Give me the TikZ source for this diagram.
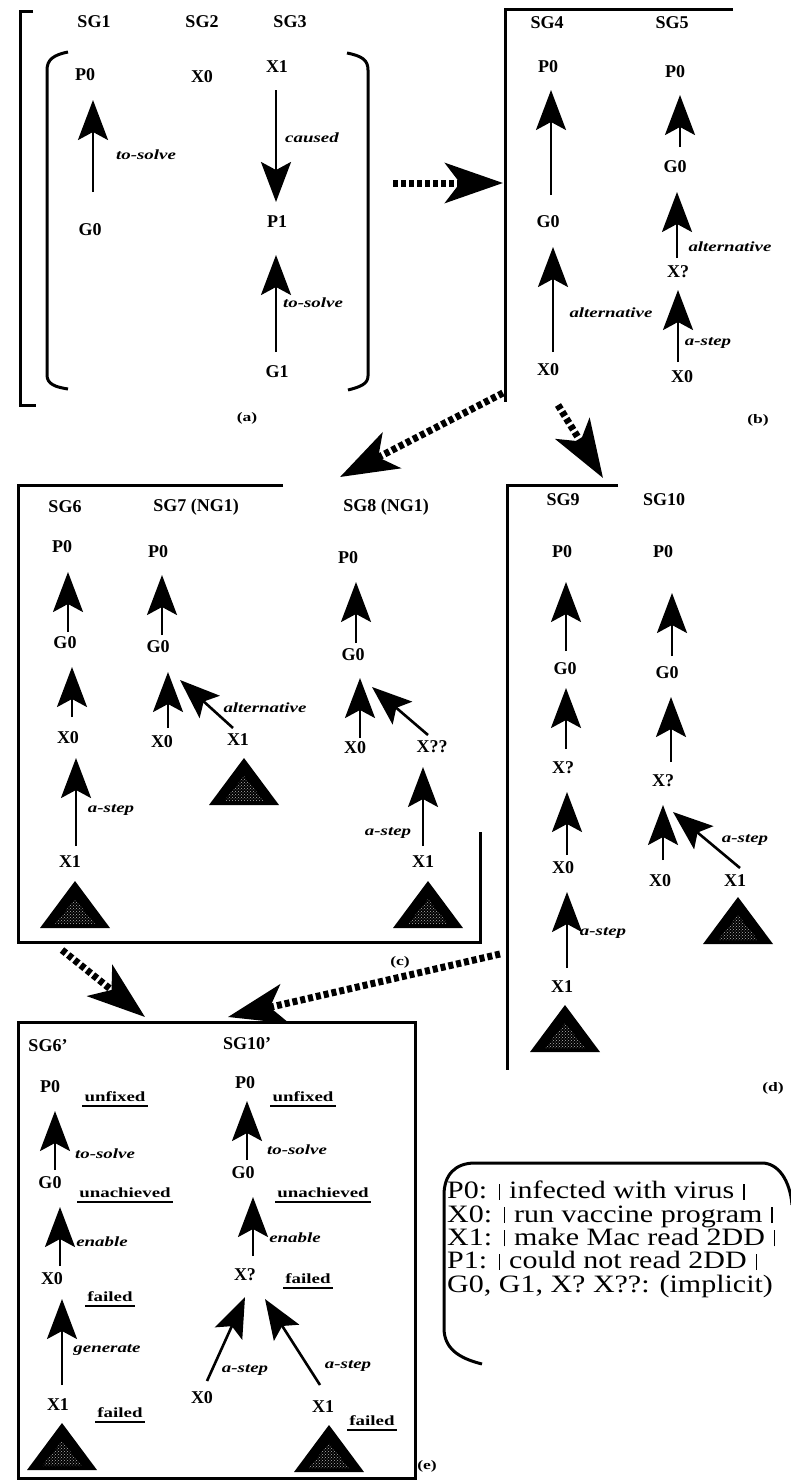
\documentclass[tikz,border=0pt]{standalone}
\usepackage{fontspec}
\setmainfont{Liberation Serif}
\newfontfamily\lblfont[FakeStretch=1.35]{Liberation Serif}
\newfontfamily\legfont[FakeStretch=1.2]{Liberation Serif}
\usetikzlibrary{arrows.meta,patterns}
\newcommand{\stiptri}[2]{%
  \fill[black] (#1,#2) -- ++(-35,47) -- ++(70,0) -- cycle;
  \fill[pattern=crosshatch dots, pattern color=white!70!black] (#1,#2) ++(0,18) -- ++(-20,25) -- ++(40,0) -- cycle;}
\newcommand{\lgbar}{\hspace{1.5pt}\rule[-1pt]{1.5pt}{16pt}\hspace{1.5pt}}
\begin{document}
\begin{tikzpicture}[x=1pt,y=-1pt,
  nodelbl/.style={font=\bfseries\fontsize{18}{20}\selectfont, inner sep=0pt},
  edgelbl/.style={font=\lblfont\bfseries\itshape\fontsize{14}{16}\selectfont, inner sep=0pt},
  ullbl/.style={font=\lblfont\bfseries\fontsize{14}{16}\selectfont, inner sep=0pt,
    append after command={([shift={(-2,4)}]\tikzlastnode.south west) edge[line width=1.6pt] ([shift={(2,4)}]\tikzlastnode.south east)}},
  caplbl/.style={font=\lblfont\bfseries\fontsize{13}{15}\selectfont, inner sep=0pt},
  arrowup/.style={draw, line width=2.6pt, -{Stealth[length=40pt,width=30pt,inset=8pt]}},
  dotarrow/.style={draw, line width=7pt, dash pattern=on 5pt off 3pt, -{Stealth[length=58pt,width=40pt,inset=15pt]}},
  boxline/.style={line width=3pt}]
\useasboundingbox (0,0) rectangle (791,1480);

% ---------------- (a)
\draw[boxline] (33,12) -- (20,12) -- (20,405) -- (36,405);
\draw[boxline] (68,52) .. controls (53,55) and (47,60) .. (47,70) -- (47,375) .. controls (47,384) and (55,387) .. (68,389);
\draw[boxline] (347,53) .. controls (362,56) and (368,60) .. (368,70) -- (368,376) .. controls (368,384) and (360,387) .. (348,390);
\node[nodelbl] (sg1) at (94,22) {SG1};
\node[nodelbl] (sg2) at (202,22) {SG2};
\node[nodelbl] (sg3) at (290,22) {SG3};
\node[nodelbl] (a1p0) at (85,75) {P0};
\node[nodelbl] (a1g0) at (90,230) {G0};
\node[nodelbl] (a2x0) at (202,77) {X0};
\node[nodelbl] (a3x1) at (277,67) {X1};
\node[nodelbl] (a3p1) at (277,222) {P1};
\node[nodelbl] (a3g1) at (277,372) {G1};
\draw[arrowup] ([shift={(3,-38)}]a1g0.center) -- ([shift={(8,25)}]a1p0.center);
\draw[arrowup] ([shift={(-1,23)}]a3x1.center) -- ([shift={(-1,-20)}]a3p1.center);
\draw[arrowup] ([shift={(-1,-20)}]a3g1.center) -- ([shift={(-1,33)}]a3p1.center);
\node[edgelbl] (la1) at (146,155) {to-solve};
\node[edgelbl] (la2) at (312,138) {caused};
\node[edgelbl] (la3) at (313,303) {to-solve};
\node[caplbl] (capa) at (247,418) {(a)};

% ---------------- (b)
\draw[boxline] (733,10) -- (505,10) -- (505,402);
\node[nodelbl] (sg4) at (547,23) {SG4};
\node[nodelbl] (sg5) at (672,23) {SG5};
\node[nodelbl] (b4p0) at (548,67) {P0};
\node[nodelbl] (b4g0) at (548,222) {G0};
\node[nodelbl] (b4x0) at (548,370) {X0};
\draw[arrowup] ([shift={(3,-27)}]b4g0.center) -- ([shift={(3,23)}]b4p0.center);
\draw[arrowup] ([shift={(5,-18)}]b4x0.center) -- ([shift={(5,25)}]b4g0.center);
\node[edgelbl] (lb1) at (611,313) {alternative};
\node[nodelbl] (b5p0) at (675,72) {P0};
\node[nodelbl] (b5g0) at (675,167) {G0};
\node[nodelbl] (b5xq) at (678,272) {X?};
\node[nodelbl] (b5x0) at (682,377) {X0};
\draw[arrowup] ([shift={(5,-20)}]b5g0.center) -- ([shift={(5,23)}]b5p0.center);
\draw[arrowup] ([shift={(-1,-14)}]b5xq.center) -- ([shift={(2,25)}]b5g0.center);
\draw[arrowup] ([shift={(-4,-15)}]b5x0.center) -- ([shift={(0,18)}]b5xq.center);
\node[edgelbl] (lb2) at (730,247) {alternative};
\node[edgelbl] (lb3) at (708,343) {a-step};
\node[caplbl] (capb) at (758,420) {(b)};

% ---------------- (c)
\draw[boxline] (283,485) -- (18,485) -- (18,942) -- (480,942) -- (480,832);
\node[nodelbl] (sg6) at (65,507) {SG6};
\node[nodelbl] (sg7) at (196,507) {SG7 (NG1)};
\node[nodelbl] (sg8) at (386,507) {SG8 (NG1)};
\node[nodelbl] (c6p0) at (62,547) {P0};
\node[nodelbl] (c6g0) at (65,643) {G0};
\node[nodelbl] (c6x0) at (68,738) {X0};
\node[nodelbl] (c6x1) at (70,862) {X1};
\draw[arrowup] ([shift={(3,-11)}]c6g0.center) -- ([shift={(6,25)}]c6p0.center);
\draw[arrowup] ([shift={(4,-21)}]c6x0.center) -- ([shift={(7,24)}]c6g0.center);
\draw[arrowup] ([shift={(6,-16)}]c6x1.center) -- ([shift={(8,20)}]c6x0.center);
\node[edgelbl] (lc1) at (111,810) {a-step};
\stiptri{75}{881}
\node[nodelbl] (c7p0) at (158,552) {P0};
\node[nodelbl] (c7g0) at (158,647) {G0};
\node[nodelbl] (c7x0) at (162,742) {X0};
\node[nodelbl] (c7x1) at (238,740) {X1};
\draw[arrowup] ([shift={(4,-12)}]c7g0.center) -- ([shift={(4,23)}]c7p0.center);
\draw[arrowup] ([shift={(6,-14)}]c7x0.center) -- ([shift={(10,25)}]c7g0.center);
\draw[arrowup] ([shift={(-5,-12)}]c7x1.center) -- ([shift={(22,33)}]c7g0.center);
\node[edgelbl] (lc2) at (265,708) {alternative};
\stiptri{244}{758}
\node[nodelbl] (c8p0) at (348,558) {P0};
\node[nodelbl] (c8g0) at (353,655) {G0};
\node[nodelbl] (c8x0) at (355,748) {X0};
\node[nodelbl] (c8xq) at (432,747) {X??};
\node[nodelbl] (c8x1) at (423,862) {X1};
\draw[arrowup] ([shift={(3,-12)}]c8g0.center) -- ([shift={(8,24)}]c8p0.center);
\draw[arrowup] ([shift={(5,-10)}]c8x0.center) -- ([shift={(7,23)}]c8g0.center);
\draw[arrowup] ([shift={(-4,-12)}]c8xq.center) -- ([shift={(19,32)}]c8g0.center);
\draw[arrowup] ([shift={(0,-16)}]c8x1.center) -- ([shift={(-9,20)}]c8xq.center);
\node[edgelbl] (lc3) at (388,833) {a-step};
\stiptri{428}{881}
\node[caplbl] (capc) at (400,962) {(c)};

% ---------------- (d)
\draw[boxline] (618,485) -- (507,485) -- (507,1070);
\node[nodelbl] (sg9) at (563,500) {SG9};
\node[nodelbl] (sg10) at (664,500) {SG10};
\node[nodelbl] (d9p0) at (562,552) {P0};
\node[nodelbl] (d9g0) at (565,669) {G0};
\node[nodelbl] (d9xq) at (563,768) {X?};
\node[nodelbl] (d9x0) at (563,868) {X0};
\node[nodelbl] (d9x1) at (562,987) {X1};
\draw[arrowup] ([shift={(1,-18)}]d9g0.center) -- ([shift={(4,30)}]d9p0.center);
\draw[arrowup] ([shift={(3,-19)}]d9xq.center) -- ([shift={(1,19)}]d9g0.center);
\draw[arrowup] ([shift={(4,-13)}]d9x0.center) -- ([shift={(4,24)}]d9xq.center);
\draw[arrowup] ([shift={(5,-19)}]d9x1.center) -- ([shift={(4,24)}]d9x0.center);
\node[edgelbl] (ld1) at (603,933) {a-step};
\stiptri{565}{1005}
\node[nodelbl] (d10p0) at (663,552) {P0};
\node[nodelbl] (d10g0) at (667,673) {G0};
\node[nodelbl] (d10xq) at (663,781) {X?};
\node[nodelbl] (d10x0) at (660,881) {X0};
\node[nodelbl] (d10x1) at (735,881) {X1};
\draw[arrowup] ([shift={(5,-17)}]d10g0.center) -- ([shift={(9,41)}]d10p0.center);
\draw[arrowup] ([shift={(8,-19)}]d10xq.center) -- ([shift={(4,24)}]d10g0.center);
\draw[arrowup] ([shift={(3,-21)}]d10x0.center) -- ([shift={(0,24)}]d10xq.center);
\draw[arrowup] ([shift={(5,-13)}]d10x1.center) -- ([shift={(10,31)}]d10xq.center);
\node[edgelbl] (ld2) at (745,840) {a-step};
\stiptri{738}{897}
\node[caplbl] (capd) at (773,1088) {(d)};

% ---------------- (e)
\draw[boxline] (18,1022) rectangle (415,1478);
\node[nodelbl] (sg6p) at (48,1046) {SG6'};
\node[nodelbl] (sg10p) at (247,1044) {SG10'};
\node[nodelbl] (e6p0) at (50,1087) {P0};
\node[nodelbl] (e6g0) at (50,1183) {G0};
\node[nodelbl] (e6x0) at (52,1279) {X0};
\node[nodelbl] (e6x1) at (58,1405) {X1};
\draw[arrowup] ([shift={(5,-13)}]e6g0.center) -- ([shift={(5,24)}]e6p0.center);
\draw[arrowup] ([shift={(8,-13)}]e6x0.center) -- ([shift={(10,24)}]e6g0.center);
\draw[arrowup] ([shift={(4,-20)}]e6x1.center) -- ([shift={(10,20)}]e6x0.center);
\node[edgelbl] (le1) at (105,1154) {to-solve};
\node[edgelbl] (le2) at (102,1242) {enable};
\node[edgelbl] (le3) at (107,1350) {generate};
\node[ullbl] (ue1) at (115,1097) {unfixed};
\node[ullbl] (ue2) at (125,1193) {unachieved};
\node[ullbl] (ue3) at (110,1297) {failed};
\node[ullbl] (ue4) at (120,1413) {failed};
\stiptri{62}{1423}
\node[nodelbl] (e10p0) at (245,1083) {P0};
\node[nodelbl] (e10g0) at (243,1173) {G0};
\node[nodelbl] (e10xq) at (245,1275) {X?};
\node[nodelbl] (e10x0) at (202,1398) {X0};
\node[nodelbl] (e10x1) at (323,1407) {X1};
\draw[arrowup] ([shift={(4,-13)}]e10g0.center) -- ([shift={(2,18)}]e10p0.center);
\draw[arrowup] ([shift={(8,-19)}]e10xq.center) -- ([shift={(10,24)}]e10g0.center);
\draw[arrowup] ([shift={(5,-17)}]e10x0.center) -- ([shift={(0,22)}]e10xq.center);
\draw[arrowup] ([shift={(-3,-22)}]e10x1.center) -- ([shift={(20,24)}]e10xq.center);
\node[edgelbl] (le4) at (297,1150) {to-solve};
\node[edgelbl] (le5) at (295,1238) {enable};
\node[edgelbl] (le6) at (245,1370) {a-step};
\node[edgelbl] (le7) at (348,1366) {a-step};
\node[ullbl] (ue5) at (303,1097) {unfixed};
\node[ullbl] (ue6) at (323,1193) {unachieved};
\node[ullbl] (ue7) at (308,1279) {failed};
\node[ullbl] (ue8) at (372,1421) {failed};
\stiptri{329}{1425}
\node[caplbl] (cape) at (427,1466) {(e)};

% ---------------- dotted transition arrows
\coordinate (ab0) at (393,183); \coordinate (ab1) at (503,183);
\coordinate (bc0) at (503,393); \coordinate (bc1) at (340,477);
\coordinate (bd0) at (558,405); \coordinate (bd1) at (603,478);
\coordinate (ce0) at (62,950);  \coordinate (ce1) at (145,1017);
\coordinate (de0) at (500,954); \coordinate (de1) at (228,1017);
\draw[dotarrow] (ab0) -- (ab1);
\draw[dotarrow] (bc0) -- (bc1);
\draw[dotarrow] (bd0) -- (bd1);
\draw[dotarrow] (ce0) -- (ce1);
\draw[dotarrow] (de0) -- (de1);

% ---------------- legend
\draw[boxline] (482,1364) .. controls (458,1358) and (444,1348) .. (444,1328) -- (444,1195) .. controls (444,1175) and (455,1163) .. (475,1163) -- (762,1163) .. controls (778,1163) and (790,1180) .. (792,1205);
\node[font=\legfont\fontsize{25}{23.3}\selectfont, align=left, anchor=north west, inner sep=0pt] (legend) at (447,1181)
  {P0: \lgbar{} infected with virus \lgbar\\ X0: \lgbar{} run vaccine program \lgbar\\ X1: \lgbar{} make Mac read 2DD \lgbar\\ P1: \lgbar{} could not read 2DD \lgbar\\ G0, G1, X? X??: (implicit)};
\end{tikzpicture}
\end{document}
